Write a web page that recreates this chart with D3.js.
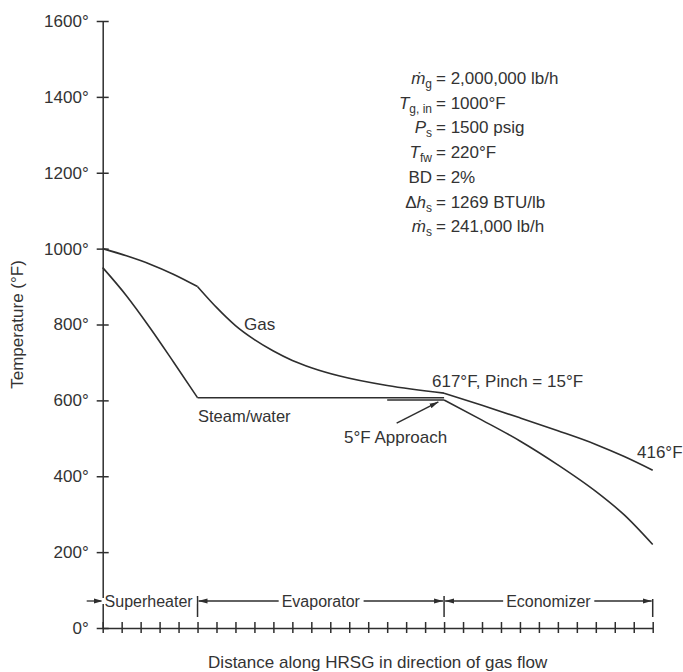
<!DOCTYPE html>
<html>
<head>
<meta charset="utf-8">
<script src="https://cdn.jsdelivr.net/npm/d3@7"></script>
<style>
  body { margin: 0; background: #fff; }
  svg { display: block; font-family: 'Liberation Sans', Arial, sans-serif; }
</style>
</head>
<body>
<div id="container"></div>
<script>
'use strict';

const w = 683;
const h = 672;

// temperature ticks (°F)
const yTicks = [0, 200, 400, 600, 800, 1000, 1200, 1400, 1600];
// unlabelled distance ticks along the HRSG
const xTicks = d3.range(0, 30);

// sections of the HRSG (distance units)
const sections = ['Superheater', 'Evaporator', 'Economizer'];
const sectionBounds = [0, 5, 18, 29];

// gas temperature, [distance, °F]
const gasSuperheater = [[0, 1000], [1.25, 981], [2.5, 959], [3.75, 932], [5, 900]];
const gasEvaporator = [[5, 900], [5.5, 872], [6, 845], [6.5, 820], [7, 797], [8, 760], [9, 730], [10, 705], [11, 686], [12.5, 664], [15, 639], [18, 619]];
const gasEconomizer = [[18, 619], [20, 587], [22, 554], [24, 520], [26, 484], [27.5, 452], [29, 416]];

// steam / water temperature, [distance, °F]
const steamSuperheater = [[0, 950], [1.25, 876], [2.5, 791], [3.75, 700], [5, 607]];
const steamEvaporator = [[5, 607], [18, 607]];
const waterApproach = [[15, 601], [18, 601]];
const waterEconomizer = [[18, 601], [20, 548], [22, 493], [24, 430], [26, 360], [27.5, 298], [29, 220]];

// design data block
const paramSymbols = [
    [['ṁ', 'i'], ['g', 's']],
    [['T', 'i'], ['g, in', 's']],
    [['P', 'i'], ['s', 's']],
    [['T', 'i'], ['fw', 's']],
    [['BD', 'n']],
    [['Δ', 'n'], ['h', 'i'], ['s', 's']],
    [['ṁ', 'i'], ['s', 's']]
];
const paramValues = ['= 2,000,000 lb/h', '= 1000°F', '= 1500 psig', '= 220°F', '= 2%', '= 1269 BTU/lb', '= 241,000 lb/h'];

const ink = '#2e2e2e';
const textInk = '#333';

const svg = d3.select('#container')
                .append('svg')
                .attr('width', w)
                .attr('height', h)
                .attr('viewBox', '0 0 ' + w + ' ' + h);

svg.append('rect').attr('width', w).attr('height', h).attr('fill', '#fff');

svg.append('defs')
    .append('marker')
    .attr('id', 'arrow')
    .attr('markerUnits', 'userSpaceOnUse')
    .attr('markerWidth', 9)
    .attr('markerHeight', 6)
    .attr('refX', 9)
    .attr('refY', 3)
    .attr('orient', 'auto-start-reverse')
    .append('path')
    .attr('d', 'M0,0.5 L9,3 L0,5.5 Z')
    .attr('fill', ink);

const xScale = d3.scaleLinear().domain([0, 29]).range([102.7, 652.7]);
const yScale = d3.scaleLinear().domain([0, 1600]).range([628, 21]);

// axes
const yAxis = d3.axisLeft(yScale)
                .tickValues(yTicks)
                .tickSize(6)
                .tickSizeOuter(0)
                .tickPadding(8)
                .tickFormat((d) => d + '°');
const yG = svg.append('g')
    .attr('transform', 'translate(' + xScale(0) + ', 0)')
    .call(yAxis);
yG.selectAll('.tick line').attr('x1', 6);
yG.selectAll('.tick text')
    .attr('font-size', 17)
    .attr('font-family', 'Liberation Sans, Arial, sans-serif')
    .attr('fill', textInk);

const xAxis = d3.axisBottom(xScale)
                .tickValues(xTicks)
                .tickSize(5)
                .tickSizeOuter(0)
                .tickFormat('');
const xG = svg.append('g')
    .attr('transform', 'translate(0, ' + yScale(0) + ')')
    .call(xAxis);
xG.selectAll('.tick line').attr('y1', -6);

svg.selectAll('.domain, .tick line')
    .attr('stroke', ink)
    .attr('stroke-width', 1.5);

svg.append('text')
    .attr('transform', 'translate(23, ' + yScale(800) + ') rotate(-90)')
    .attr('text-anchor', 'middle')
    .attr('font-size', 17)
    .attr('fill', textInk)
    .text('Temperature (°F)');

svg.append('text')
    .attr('x', (xScale(0) + xScale(29)) / 2)
    .attr('y', 668)
    .attr('text-anchor', 'middle')
    .attr('font-size', 17)
    .attr('fill', textInk)
    .text('Distance along HRSG in direction of gas flow');

// temperature profiles
const smooth = d3.line()
                .x((d) => xScale(d[0]))
                .y((d) => yScale(d[1]))
                .curve(d3.curveMonotoneX);
const straight = d3.line()
                .x((d) => xScale(d[0]))
                .y((d) => yScale(d[1]));

const profiles = [
    [gasSuperheater, smooth],
    [gasEvaporator, smooth],
    [gasEconomizer, smooth],
    [steamSuperheater, smooth],
    [steamEvaporator, straight],
    [waterApproach, straight],
    [waterEconomizer, smooth]
];
svg.selectAll('path.profile')
    .data(profiles)
    .enter()
    .append('path')
    .attr('class', 'profile')
    .attr('d', (d) => d[1](d[0]))
    .attr('fill', 'none')
    .attr('stroke', ink)
    .attr('stroke-width', 1.6)
    .attr('stroke-linejoin', 'round');

// curve labels
const label = (x, y, txt, size) => svg.append('text')
    .attr('x', x)
    .attr('y', y)
    .attr('font-size', size || 17)
    .attr('fill', textInk)
    .text(txt);

label(244, 330, 'Gas');
label(198, 422, 'Steam/water', 16.5);
label(432, 387, '617°F, Pinch = 15°F');
label(637, 458, '416°F');
label(344, 443, '5°F Approach');

svg.append('line')
    .attr('x1', xScale(15.5))
    .attr('y1', yScale(540))
    .attr('x2', xScale(17.7))
    .attr('y2', yScale(596))
    .attr('stroke', ink)
    .attr('stroke-width', 1.5)
    .attr('marker-end', 'url(#arrow)');

// design data
const params = svg.append('g').attr('font-size', 17).attr('fill', textInk);
paramSymbols.forEach((parts, i) => {
    const y = 84 + i * 24.7;
    const t = params.append('text')
        .attr('x', 432)
        .attr('y', y)
        .attr('text-anchor', 'end');
    parts.forEach((p) => {
        const s = t.append('tspan').text(p[0]);
        if (p[1] === 'i') {
            s.attr('font-style', 'italic');
        }
        if (p[1] === 's') {
            s.attr('font-size', 12).attr('dy', 4);
        }
    });
    params.append('text')
        .attr('x', 436)
        .attr('y', y)
        .text(paramValues[i]);
});

// section dimension lines
const dimY = 601;
const dims = svg.append('g');

dims.append('line')
    .attr('x1', xScale(0) - 16)
    .attr('x2', xScale(0))
    .attr('y1', dimY)
    .attr('y2', dimY)
    .attr('stroke', ink)
    .attr('stroke-width', 1.3)
    .attr('marker-end', 'url(#arrow)');

[1, 2].forEach((i) => {
    dims.append('line')
        .attr('x1', xScale(sectionBounds[i]) + 1)
        .attr('x2', xScale(sectionBounds[i + 1]) - 1)
        .attr('y1', dimY)
        .attr('y2', dimY)
        .attr('stroke', ink)
        .attr('stroke-width', 1.3)
        .attr('marker-start', 'url(#arrow)')
        .attr('marker-end', 'url(#arrow)');
});

sectionBounds.slice(1).forEach((b, i) => {
    dims.append('line')
        .attr('x1', xScale(b))
        .attr('x2', xScale(b))
        .attr('y1', i === 2 ? 599 : 596)
        .attr('y2', 617)
        .attr('stroke', ink)
        .attr('stroke-width', 1.5);
});

sections.forEach((name, i) => {
    const cx = (xScale(sectionBounds[i]) + xScale(sectionBounds[i + 1])) / 2;
    const t = dims.append('text')
        .attr('x', cx - (i === 0 ? 1.5 : 0))
        .attr('y', dimY + 5.5)
        .attr('text-anchor', 'middle')
        .attr('font-size', 16)
        .attr('fill', textInk)
        .text(name);
    const bb = t.node().getBBox();
    dims.insert('rect', 'text')
        .attr('x', bb.x - 3)
        .attr('y', dimY - 3)
        .attr('width', bb.width + 6)
        .attr('height', 6)
        .attr('fill', '#fff');
});
</script>
</body>
</html>
